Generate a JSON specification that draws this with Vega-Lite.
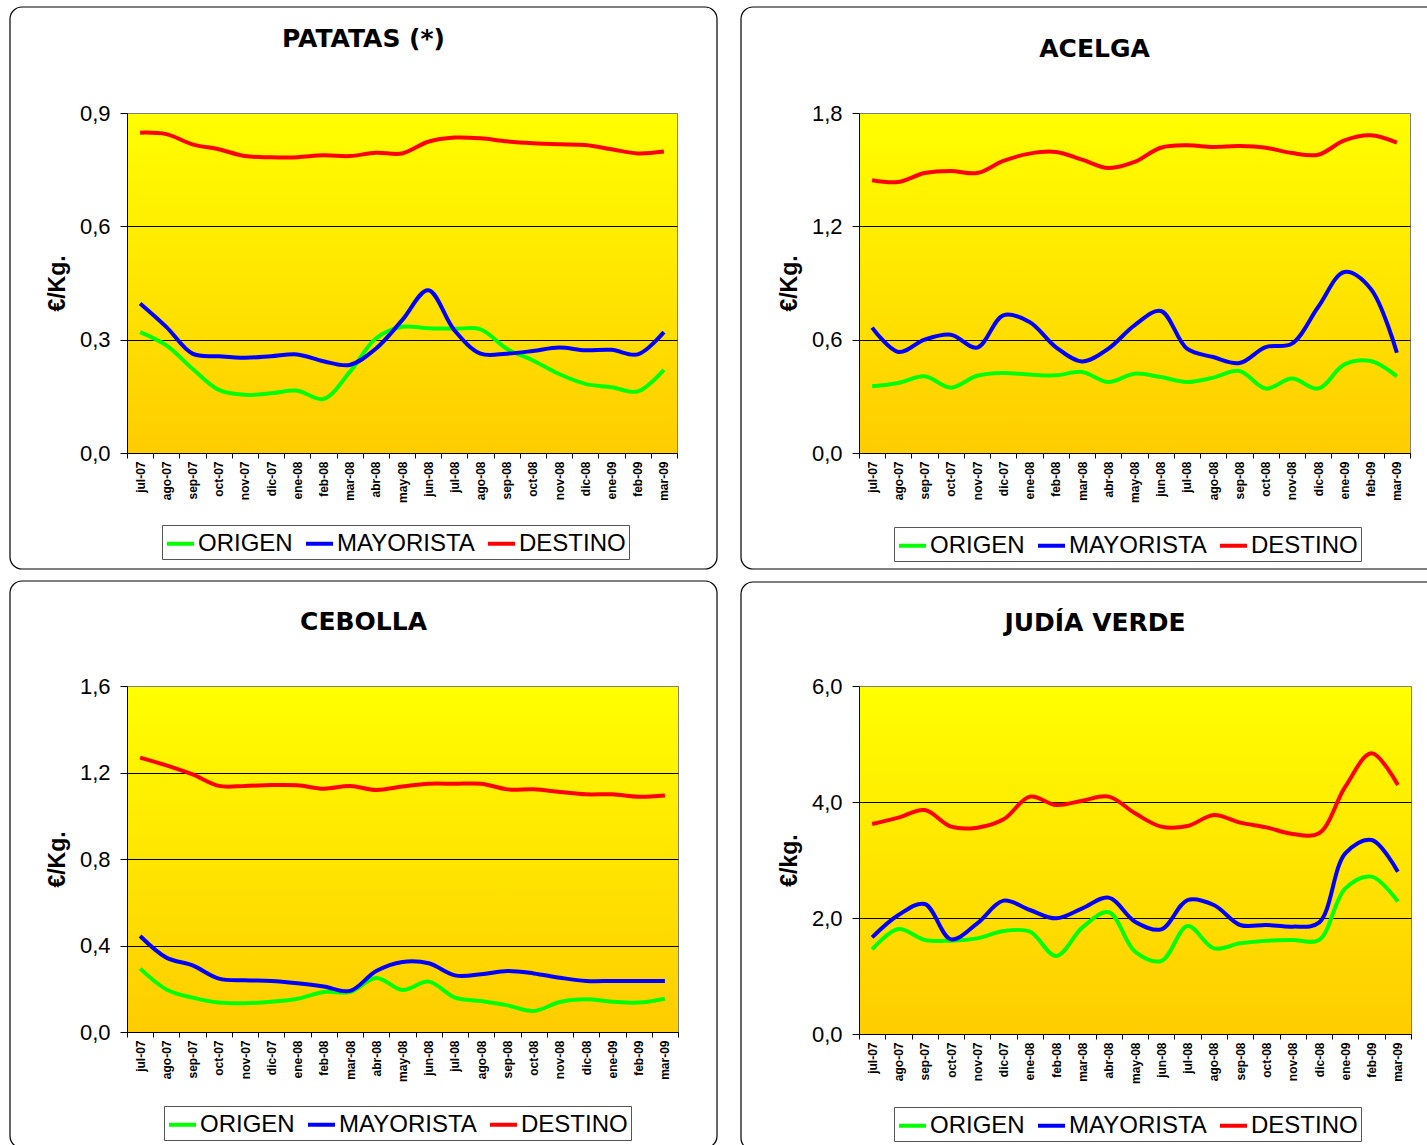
{
  "$schema": "https://vega.github.io/schema/vega-lite/v6.json",
  "padding": {"left": 8, "top": 5, "right": 5, "bottom": 5},
  "background": "white",
  "columns": 2,
  "align": "each",
  "spacing": {"row": 8, "column": 20},
  "resolve": {"scale": {"color": "independent", "x": "independent", "y": "independent"}, "legend": {"color": "independent"}},
  "config": {
    "font": "Liberation Sans",
    "view": {"stroke": "#808080", "strokeWidth": 1, "fill": {"gradient": "linear", "x1": 0, "y1": 0, "x2": 0, "y2": 1, "stops": [{"offset": 0, "color": "#FFFF00"}, {"offset": 1, "color": "#FFCC00"}]}},
    "axisX": {"title": null, "labelAngle": -90, "labelFontSize": 12, "labelFontWeight": "bold", "labelColor": "black", "tickBand": "extent", "tickSize": 5, "labelPadding": 3, "domainColor": "black", "tickColor": "black", "grid": false, "labelOverlap": false},
    "axisY": {"labelFontSize": 22, "labelColor": "black", "tickSize": 7, "labelPadding": 10, "domainColor": "black", "tickColor": "black", "grid": true, "gridOpacity": 1, "titleFontSize": 23, "titleFontWeight": "bold", "titleColor": "black", "titlePadding": 10},
    "title": {"font": "DejaVu Sans", "fontSize": 25, "fontWeight": "bold", "color": "black", "frame": "bounds", "anchor": "middle", "baseline": "top"},
    "legend": {"orient": "none", "direction": "horizontal", "symbolType": "stroke", "symbolStrokeWidth": 4, "symbolSize": 729, "labelFontSize": 24, "labelColor": "black", "labelLimit": 0, "strokeColor": "#555555", "padding": 3, "columnPadding": 5, "labelOffset": 2}
  },
  "datasets": {
    "patatas": [
      {"mes": "jul-07", "ORIGEN": 0.320, "MAYORISTA": 0.396, "DESTINO": 0.848},
      {"mes": "ago-07", "ORIGEN": 0.285, "MAYORISTA": 0.334, "DESTINO": 0.844},
      {"mes": "sep-07", "ORIGEN": 0.223, "MAYORISTA": 0.263, "DESTINO": 0.817},
      {"mes": "oct-07", "ORIGEN": 0.167, "MAYORISTA": 0.256, "DESTINO": 0.804},
      {"mes": "nov-07", "ORIGEN": 0.154, "MAYORISTA": 0.252, "DESTINO": 0.786},
      {"mes": "dic-07", "ORIGEN": 0.158, "MAYORISTA": 0.256, "DESTINO": 0.783},
      {"mes": "ene-08", "ORIGEN": 0.165, "MAYORISTA": 0.261, "DESTINO": 0.783},
      {"mes": "feb-08", "ORIGEN": 0.143, "MAYORISTA": 0.243, "DESTINO": 0.788},
      {"mes": "mar-08", "ORIGEN": 0.214, "MAYORISTA": 0.233, "DESTINO": 0.786},
      {"mes": "abr-08", "ORIGEN": 0.303, "MAYORISTA": 0.276, "DESTINO": 0.795},
      {"mes": "may-08", "ORIGEN": 0.334, "MAYORISTA": 0.351, "DESTINO": 0.793},
      {"mes": "jun-08", "ORIGEN": 0.330, "MAYORISTA": 0.431, "DESTINO": 0.824},
      {"mes": "jul-08", "ORIGEN": 0.329, "MAYORISTA": 0.325, "DESTINO": 0.835},
      {"mes": "ago-08", "ORIGEN": 0.327, "MAYORISTA": 0.263, "DESTINO": 0.833},
      {"mes": "sep-08", "ORIGEN": 0.276, "MAYORISTA": 0.263, "DESTINO": 0.825},
      {"mes": "oct-08", "ORIGEN": 0.245, "MAYORISTA": 0.270, "DESTINO": 0.820},
      {"mes": "nov-08", "ORIGEN": 0.209, "MAYORISTA": 0.279, "DESTINO": 0.817},
      {"mes": "dic-08", "ORIGEN": 0.183, "MAYORISTA": 0.272, "DESTINO": 0.815},
      {"mes": "ene-09", "ORIGEN": 0.174, "MAYORISTA": 0.273, "DESTINO": 0.804},
      {"mes": "feb-09", "ORIGEN": 0.163, "MAYORISTA": 0.261, "DESTINO": 0.793},
      {"mes": "mar-09", "ORIGEN": 0.220, "MAYORISTA": 0.320, "DESTINO": 0.798}
    ],
    "acelga": [
      {"mes": "jul-07", "ORIGEN": 0.353, "MAYORISTA": 0.664, "DESTINO": 1.444},
      {"mes": "ago-07", "ORIGEN": 0.371, "MAYORISTA": 0.535, "DESTINO": 1.435},
      {"mes": "sep-07", "ORIGEN": 0.406, "MAYORISTA": 0.600, "DESTINO": 1.482},
      {"mes": "oct-07", "ORIGEN": 0.346, "MAYORISTA": 0.626, "DESTINO": 1.493},
      {"mes": "nov-07", "ORIGEN": 0.409, "MAYORISTA": 0.558, "DESTINO": 1.482},
      {"mes": "dic-07", "ORIGEN": 0.424, "MAYORISTA": 0.729, "DESTINO": 1.546},
      {"mes": "ene-08", "ORIGEN": 0.415, "MAYORISTA": 0.694, "DESTINO": 1.585},
      {"mes": "feb-08", "ORIGEN": 0.411, "MAYORISTA": 0.561, "DESTINO": 1.594},
      {"mes": "mar-08", "ORIGEN": 0.429, "MAYORISTA": 0.485, "DESTINO": 1.553},
      {"mes": "abr-08", "ORIGEN": 0.376, "MAYORISTA": 0.552, "DESTINO": 1.509},
      {"mes": "may-08", "ORIGEN": 0.420, "MAYORISTA": 0.676, "DESTINO": 1.541},
      {"mes": "jun-08", "ORIGEN": 0.402, "MAYORISTA": 0.752, "DESTINO": 1.616},
      {"mes": "jul-08", "ORIGEN": 0.376, "MAYORISTA": 0.552, "DESTINO": 1.629},
      {"mes": "ago-08", "ORIGEN": 0.399, "MAYORISTA": 0.508, "DESTINO": 1.620},
      {"mes": "sep-08", "ORIGEN": 0.434, "MAYORISTA": 0.476, "DESTINO": 1.625},
      {"mes": "oct-08", "ORIGEN": 0.341, "MAYORISTA": 0.561, "DESTINO": 1.616},
      {"mes": "nov-08", "ORIGEN": 0.394, "MAYORISTA": 0.579, "DESTINO": 1.588},
      {"mes": "dic-08", "ORIGEN": 0.341, "MAYORISTA": 0.773, "DESTINO": 1.579},
      {"mes": "ene-09", "ORIGEN": 0.469, "MAYORISTA": 0.958, "DESTINO": 1.655},
      {"mes": "feb-09", "ORIGEN": 0.487, "MAYORISTA": 0.870, "DESTINO": 1.682},
      {"mes": "mar-09", "ORIGEN": 0.406, "MAYORISTA": 0.531, "DESTINO": 1.643}
    ],
    "cebolla": [
      {"mes": "jul-07", "ORIGEN": 0.293, "MAYORISTA": 0.444, "DESTINO": 1.269},
      {"mes": "ago-07", "ORIGEN": 0.197, "MAYORISTA": 0.344, "DESTINO": 1.233},
      {"mes": "sep-07", "ORIGEN": 0.159, "MAYORISTA": 0.308, "DESTINO": 1.191},
      {"mes": "oct-07", "ORIGEN": 0.136, "MAYORISTA": 0.247, "DESTINO": 1.138},
      {"mes": "nov-07", "ORIGEN": 0.133, "MAYORISTA": 0.239, "DESTINO": 1.138},
      {"mes": "dic-07", "ORIGEN": 0.140, "MAYORISTA": 0.236, "DESTINO": 1.142},
      {"mes": "ene-08", "ORIGEN": 0.154, "MAYORISTA": 0.225, "DESTINO": 1.141},
      {"mes": "feb-08", "ORIGEN": 0.185, "MAYORISTA": 0.210, "DESTINO": 1.125},
      {"mes": "mar-08", "ORIGEN": 0.185, "MAYORISTA": 0.190, "DESTINO": 1.138},
      {"mes": "abr-08", "ORIGEN": 0.250, "MAYORISTA": 0.282, "DESTINO": 1.119},
      {"mes": "may-08", "ORIGEN": 0.194, "MAYORISTA": 0.324, "DESTINO": 1.135},
      {"mes": "jun-08", "ORIGEN": 0.233, "MAYORISTA": 0.318, "DESTINO": 1.148},
      {"mes": "jul-08", "ORIGEN": 0.159, "MAYORISTA": 0.262, "DESTINO": 1.148},
      {"mes": "ago-08", "ORIGEN": 0.143, "MAYORISTA": 0.267, "DESTINO": 1.148},
      {"mes": "sep-08", "ORIGEN": 0.123, "MAYORISTA": 0.282, "DESTINO": 1.122},
      {"mes": "oct-08", "ORIGEN": 0.097, "MAYORISTA": 0.271, "DESTINO": 1.122},
      {"mes": "nov-08", "ORIGEN": 0.139, "MAYORISTA": 0.251, "DESTINO": 1.110},
      {"mes": "dic-08", "ORIGEN": 0.151, "MAYORISTA": 0.236, "DESTINO": 1.099},
      {"mes": "ene-09", "ORIGEN": 0.140, "MAYORISTA": 0.236, "DESTINO": 1.099},
      {"mes": "feb-09", "ORIGEN": 0.136, "MAYORISTA": 0.236, "DESTINO": 1.088},
      {"mes": "mar-09", "ORIGEN": 0.154, "MAYORISTA": 0.236, "DESTINO": 1.094}
    ],
    "judia": [
      {"mes": "jul-07", "ORIGEN": 1.460, "MAYORISTA": 1.667, "DESTINO": 3.621},
      {"mes": "ago-07", "ORIGEN": 1.810, "MAYORISTA": 2.052, "DESTINO": 3.730},
      {"mes": "sep-07", "ORIGEN": 1.621, "MAYORISTA": 2.241, "DESTINO": 3.862},
      {"mes": "oct-07", "ORIGEN": 1.609, "MAYORISTA": 1.632, "DESTINO": 3.575},
      {"mes": "nov-07", "ORIGEN": 1.649, "MAYORISTA": 1.908, "DESTINO": 3.557},
      {"mes": "dic-07", "ORIGEN": 1.776, "MAYORISTA": 2.299, "DESTINO": 3.701},
      {"mes": "ene-08", "ORIGEN": 1.764, "MAYORISTA": 2.138, "DESTINO": 4.092},
      {"mes": "feb-08", "ORIGEN": 1.345, "MAYORISTA": 1.994, "DESTINO": 3.948},
      {"mes": "mar-08", "ORIGEN": 1.839, "MAYORISTA": 2.167, "DESTINO": 4.023},
      {"mes": "abr-08", "ORIGEN": 2.098, "MAYORISTA": 2.351, "DESTINO": 4.092},
      {"mes": "may-08", "ORIGEN": 1.420, "MAYORISTA": 1.937, "DESTINO": 3.805},
      {"mes": "jun-08", "ORIGEN": 1.259, "MAYORISTA": 1.805, "DESTINO": 3.575},
      {"mes": "jul-08", "ORIGEN": 1.862, "MAYORISTA": 2.310, "DESTINO": 3.586},
      {"mes": "ago-08", "ORIGEN": 1.477, "MAYORISTA": 2.224, "DESTINO": 3.776},
      {"mes": "sep-08", "ORIGEN": 1.563, "MAYORISTA": 1.879, "DESTINO": 3.644},
      {"mes": "oct-08", "ORIGEN": 1.609, "MAYORISTA": 1.879, "DESTINO": 3.563},
      {"mes": "nov-08", "ORIGEN": 1.621, "MAYORISTA": 1.851, "DESTINO": 3.448},
      {"mes": "dic-08", "ORIGEN": 1.621, "MAYORISTA": 1.920, "DESTINO": 3.460},
      {"mes": "ene-09", "ORIGEN": 2.511, "MAYORISTA": 3.115, "DESTINO": 4.264},
      {"mes": "feb-09", "ORIGEN": 2.713, "MAYORISTA": 3.345, "DESTINO": 4.839},
      {"mes": "mar-09", "ORIGEN": 2.282, "MAYORISTA": 2.799, "DESTINO": 4.293}
    ]
  },
  "concat": [
    {
      "width": 550, "height": 340,
      "title": {"text": "PATATAS (*)", "offset": -46},
      "resolve": {"scale": {"x": "independent"}},
      "layer": [
        {
          "data": {"values": [{}]},
          "mark": {"type": "rect", "fill": "white", "fillOpacity": 0, "stroke": "black", "strokeWidth": 1.2, "cornerRadius": 12},
          "encoding": {
            "x": {"datum": -0.21273, "type": "quantitative", "scale": {"domain": [0, 1], "nice": false, "zero": false}, "axis": null},
            "x2": {"datum": 1.07273},
            "y": {"datum": -0.3071, "type": "quantitative", "scale": {"domain": [0, 0.9], "nice": false, "zero": false}, "axis": {"title": "€/Kg.", "values": [0, 0.3, 0.6, 0.9], "labelExpr": "replace(format(datum.value, '.1f'), '.', ',')", "gridColor": {"condition": {"test": "datum.value == 0.9", "value": "#808080"}, "value": "black"}}},
            "y2": {"datum": 1.1806}
          }
        },
        {
          "data": {"name": "patatas"},
          "transform": [{"fold": ["ORIGEN", "MAYORISTA", "DESTINO"], "as": ["serie", "precio"]}],
          "mark": {"type": "line", "interpolate": "catmull-rom", "strokeWidth": 4},
          "encoding": {
            "x": {"field": "mes", "type": "ordinal", "sort": ["jul-07","ago-07","sep-07","oct-07","nov-07","dic-07","ene-08","feb-08","mar-08","abr-08","may-08","jun-08","jul-08","ago-08","sep-08","oct-08","nov-08","dic-08","ene-09","feb-09","mar-09"], "scale": {"type": "band", "paddingInner": 0, "paddingOuter": 0}, "axis": {"title": null}},
            "y": {"field": "precio", "type": "quantitative", "scale": {"domain": [0, 0.9], "nice": false, "zero": false}, "axis": {"title": "€/Kg.", "values": [0, 0.3, 0.6, 0.9], "labelExpr": "replace(format(datum.value, '.1f'), '.', ',')", "gridColor": {"condition": {"test": "datum.value == 0.9", "value": "#808080"}, "value": "black"}}},
            "color": {"field": "serie", "type": "nominal", "scale": {"domain": ["ORIGEN", "MAYORISTA", "DESTINO"], "range": ["#00FF00", "#0000FF", "#FF0000"]}, "legend": {"title": null, "legendX": 35, "legendY": 412}}
          }
        }
      ]
    },
    {
      "width": 551, "height": 340,
      "title": {"text": "ACELGA", "offset": -56},
      "resolve": {"scale": {"x": "independent"}},
      "layer": [
        {
          "data": {"values": [{}]},
          "mark": {"type": "rect", "fill": "white", "fillOpacity": 0, "stroke": "black", "strokeWidth": 1.2, "cornerRadius": 12},
          "encoding": {
            "x": {"datum": -0.21416, "type": "quantitative", "scale": {"domain": [0, 1], "nice": false, "zero": false}, "axis": null},
            "x2": {"datum": 1.069},
            "y": {"datum": -0.6141, "type": "quantitative", "scale": {"domain": [0, 1.8], "nice": false, "zero": false}, "axis": {"title": "€/Kg.", "values": [0, 0.6, 1.2, 1.8], "labelExpr": "replace(format(datum.value, '.1f'), '.', ',')", "gridColor": {"condition": {"test": "datum.value == 1.8", "value": "#808080"}, "value": "black"}}},
            "y2": {"datum": 2.3612}
          }
        },
        {
          "data": {"name": "acelga"},
          "transform": [{"fold": ["ORIGEN", "MAYORISTA", "DESTINO"], "as": ["serie", "precio"]}],
          "mark": {"type": "line", "interpolate": "catmull-rom", "strokeWidth": 4},
          "encoding": {
            "x": {"field": "mes", "type": "ordinal", "sort": ["jul-07","ago-07","sep-07","oct-07","nov-07","dic-07","ene-08","feb-08","mar-08","abr-08","may-08","jun-08","jul-08","ago-08","sep-08","oct-08","nov-08","dic-08","ene-09","feb-09","mar-09"], "scale": {"type": "band", "paddingInner": 0, "paddingOuter": 0}, "axis": {"title": null}},
            "y": {"field": "precio", "type": "quantitative", "scale": {"domain": [0, 1.8], "nice": false, "zero": false}, "axis": {"title": "€/Kg.", "values": [0, 0.6, 1.2, 1.8], "labelExpr": "replace(format(datum.value, '.1f'), '.', ',')", "gridColor": {"condition": {"test": "datum.value == 1.8", "value": "#808080"}, "value": "black"}}},
            "color": {"field": "serie", "type": "nominal", "scale": {"domain": ["ORIGEN", "MAYORISTA", "DESTINO"], "range": ["#00FF00", "#0000FF", "#FF0000"]}, "legend": {"title": null, "legendX": 35, "legendY": 414}}
          }
        }
      ]
    },
    {
      "width": 551, "height": 346,
      "title": {"text": "CEBOLLA", "offset": -55},
      "resolve": {"scale": {"x": "independent"}},
      "layer": [
        {
          "data": {"values": [{}]},
          "mark": {"type": "rect", "fill": "white", "fillOpacity": 0, "stroke": "black", "strokeWidth": 1.2, "cornerRadius": 12},
          "encoding": {
            "x": {"datum": -0.21234, "type": "quantitative", "scale": {"domain": [0, 1], "nice": false, "zero": false}, "axis": null},
            "x2": {"datum": 1.0708},
            "y": {"datum": -0.5364, "type": "quantitative", "scale": {"domain": [0, 1.6], "nice": false, "zero": false}, "axis": {"title": "€/Kg.", "values": [0, 0.4, 0.8, 1.2, 1.6], "labelExpr": "replace(format(datum.value, '.1f'), '.', ',')", "gridColor": {"condition": {"test": "datum.value == 1.6", "value": "#808080"}, "value": "black"}}},
            "y2": {"datum": 2.0855}
          }
        },
        {
          "data": {"name": "cebolla"},
          "transform": [{"fold": ["ORIGEN", "MAYORISTA", "DESTINO"], "as": ["serie", "precio"]}],
          "mark": {"type": "line", "interpolate": "catmull-rom", "strokeWidth": 4},
          "encoding": {
            "x": {"field": "mes", "type": "ordinal", "sort": ["jul-07","ago-07","sep-07","oct-07","nov-07","dic-07","ene-08","feb-08","mar-08","abr-08","may-08","jun-08","jul-08","ago-08","sep-08","oct-08","nov-08","dic-08","ene-09","feb-09","mar-09"], "scale": {"type": "band", "paddingInner": 0, "paddingOuter": 0}, "axis": {"title": null}},
            "y": {"field": "precio", "type": "quantitative", "scale": {"domain": [0, 1.6], "nice": false, "zero": false}, "axis": {"title": "€/Kg.", "values": [0, 0.4, 0.8, 1.2, 1.6], "labelExpr": "replace(format(datum.value, '.1f'), '.', ',')", "gridColor": {"condition": {"test": "datum.value == 1.6", "value": "#808080"}, "value": "black"}}},
            "color": {"field": "serie", "type": "nominal", "scale": {"domain": ["ORIGEN", "MAYORISTA", "DESTINO"], "range": ["#00FF00", "#0000FF", "#FF0000"]}, "legend": {"title": null, "legendX": 37, "legendY": 420}}
          }
        }
      ]
    },
    {
      "width": 552, "height": 348,
      "title": {"text": "JUDÍA VERDE", "offset": -55},
      "resolve": {"scale": {"x": "independent"}},
      "layer": [
        {
          "data": {"values": [{}]},
          "mark": {"type": "rect", "fill": "white", "fillOpacity": 0, "stroke": "black", "strokeWidth": 1.2, "cornerRadius": 12},
          "encoding": {
            "x": {"datum": -0.21376, "type": "quantitative", "scale": {"domain": [0, 1], "nice": false, "zero": false}, "axis": null},
            "x2": {"datum": 1.069},
            "y": {"datum": -2.0, "type": "quantitative", "scale": {"domain": [0, 6], "nice": false, "zero": false}, "axis": {"title": "€/kg.", "values": [0, 2, 4, 6], "labelExpr": "replace(format(datum.value, '.1f'), '.', ',')", "gridColor": {"condition": {"test": "datum.value == 6", "value": "#808080"}, "value": "black"}}},
            "y2": {"datum": 7.7931}
          }
        },
        {
          "data": {"name": "judia"},
          "transform": [{"fold": ["ORIGEN", "MAYORISTA", "DESTINO"], "as": ["serie", "precio"]}],
          "mark": {"type": "line", "interpolate": "catmull-rom", "strokeWidth": 4},
          "encoding": {
            "x": {"field": "mes", "type": "ordinal", "sort": ["jul-07","ago-07","sep-07","oct-07","nov-07","dic-07","ene-08","feb-08","mar-08","abr-08","may-08","jun-08","jul-08","ago-08","sep-08","oct-08","nov-08","dic-08","ene-09","feb-09","mar-09"], "scale": {"type": "band", "paddingInner": 0, "paddingOuter": 0}, "axis": {"title": null}},
            "y": {"field": "precio", "type": "quantitative", "scale": {"domain": [0, 6], "nice": false, "zero": false}, "axis": {"title": "€/kg.", "values": [0, 2, 4, 6], "labelExpr": "replace(format(datum.value, '.1f'), '.', ',')", "gridColor": {"condition": {"test": "datum.value == 6", "value": "#808080"}, "value": "black"}}},
            "color": {"field": "serie", "type": "nominal", "scale": {"domain": ["ORIGEN", "MAYORISTA", "DESTINO"], "range": ["#00FF00", "#0000FF", "#FF0000"]}, "legend": {"title": null, "legendX": 35, "legendY": 421}}
          }
        }
      ]
    }
  ]
}
